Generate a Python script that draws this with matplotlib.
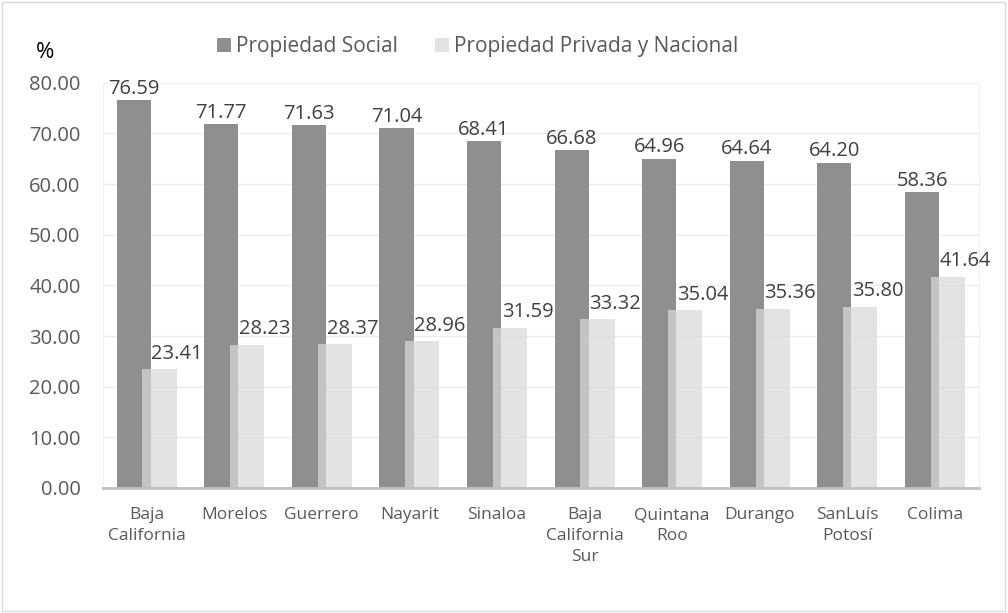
import numpy as np
import matplotlib.pyplot as plt
from matplotlib.patches import Rectangle

estados = ["Baja\nCalifornia", "Morelos", "Guerrero", "Nayarit", "Sinaloa",
           "Baja\nCalifornia\nSur", "Quintana\nRoo", "Durango", "SanLuís\nPotosí", "Colima"]
social = [76.59, 71.77, 71.63, 71.04, 68.41, 66.68, 64.96, 64.64, 64.20, 58.36]
privada = [23.41, 28.23, 28.37, 28.96, 31.59, 33.32, 35.04, 35.36, 35.80, 41.64]

plt.rcParams['font.family'] = ['Open Sans', 'DejaVu Sans']

fig = plt.figure(figsize=(10.08, 6.13), dpi=100)
ax = fig.add_axes([0.102, 0.204, 0.869, 0.661])

x = np.arange(len(estados))
w = 0.39
off = 0.148
b1 = ax.bar(x - off, social, w, color="#8f8f8f", label="Propiedad Social", zorder=2)
b2 = ax.bar(x + off, privada, w, color="#d9d9d9", alpha=0.72,
            label="Propiedad Privada y Nacional", zorder=3)

for xi, v in zip(x, social):
    ax.text(xi - off, v + 0.3, f"{v:.2f}", ha="center", va="bottom",
            fontsize=14.5, color="#404040")
for xi, v in zip(x, privada):
    ax.text(xi + off + 0.2, v + 1.1, f"{v:.2f}", ha="center", va="bottom",
            fontsize=14.5, color="#404040")

ax.set_xlim(-0.5, len(estados) - 0.5)
ax.set_ylim(0, 80)
ax.set_yticks(np.arange(0, 81, 10))
ax.set_yticklabels([f"{t:.2f}" for t in np.arange(0, 81, 10)])
ax.set_xticks(x)
ax.set_xticklabels(estados, fontsize=12.5, color="#595959", linespacing=1.4)
ax.tick_params(axis="y", labelsize=14.5, labelcolor="#595959", length=0, pad=16)
ax.tick_params(axis="x", length=0, pad=14)
ax.grid(axis="y", color="#ececec", linewidth=1, zorder=0)
for s in ["top", "right", "left"]:
    ax.spines[s].set_color("#f0f0f0")
ax.spines["bottom"].set_color("#bfbfbf")
ax.spines["bottom"].set_linewidth(2)
ax.spines["bottom"].set_zorder(4)

fig.text(0.045, 0.915, "%", fontsize=16, color="#000000", ha="center", va="center")
fig.legend(handles=[b1, b2], loc="center", bbox_to_anchor=(0.474, 0.924), ncol=2,
           frameon=False, fontsize=15, labelcolor="#595959", handlelength=0.65,
           handleheight=0.65, handletextpad=0.25, columnspacing=1.8)

fig.add_artist(Rectangle((0.002, 0.004), 0.995, 0.992, transform=fig.transFigure,
                         fill=False, edgecolor="#d9d9d9", linewidth=1))

fig.savefig("out.png", dpi=100)
